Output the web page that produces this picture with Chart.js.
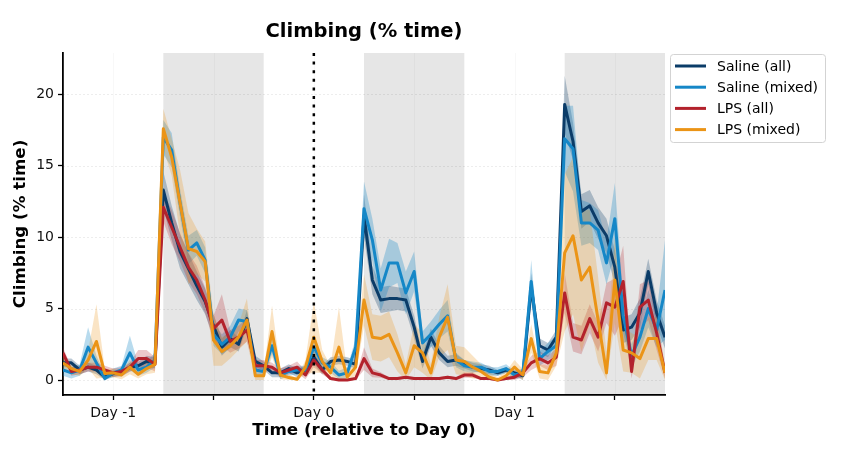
<!DOCTYPE html>
<html lang="en">
<head>
<meta charset="UTF-8">
<title>Climbing (% time)</title>
<script src="https://cdn.jsdelivr.net/npm/chart.js"></script>
<style>
  html, body { margin: 0; padding: 0; background: #fff; }
</style>
</head>
<body>
<canvas id="climbing-chart" width="841" height="464"></canvas>
<script>
// hours relative to Day 0 (hourly bins)
var hours = [];
for (var h = -30; h <= 42; h++) hours.push(h);

// dark phases (hours), x ticks
var darkPhases = [[-18, -6], [6, 18], [30, 42]];
var xTicks = [-24, -12, 0, 12, 24, 36];
var xTickLabels = ['Day -1', '', 'Day 0', '', 'Day 1', ''];
var yTicks = [0, 5, 10, 15, 20];

var seriesNames = ['Saline (all)', 'Saline (mixed)', 'LPS (all)', 'LPS (mixed)'];

// mean values, % time
var salineAll = [
  1.2, 1.2, 0.7, 0.9, 0.7, 0.2, 0.45, 0.45, 0.9, 1.0, 1.3, 1.2,
  13.3, 11.0, 9.0, 7.8, 6.6, 5.5, 3.8, 2.3, 2.9, 2.5, 4.3, 1.3,
  1.0, 0.5, 0.5, 0.8, 0.5, 0.7, 1.6, 0.7, 1.3, 1.4, 1.3, 1.1,
  11.5, 7.0, 5.6, 5.7, 5.7, 5.6, 3.7, 1.3, 3.0, 1.9, 1.3, 1.4,
  1.1, 0.9, 0.8, 0.7, 0.5, 0.7, 0.5, 0.3, 6.5, 2.4, 2.1, 3.0,
  19.3, 16.7, 11.8, 12.2, 11.0, 10.1, 7.9, 3.5, 3.7, 4.7, 7.6, 4.7, 3.0
];
var salineMixed = [
  0.7, 0.5, 0.7, 2.3, 1.2, 0.1, 0.5, 0.7, 1.9, 0.7, 0.9, 1.4,
  17.0, 16.1, 12.4, 9.1, 9.6, 8.4, 3.2, 2.5, 3.0, 4.2, 4.1, 0.7,
  0.6, 2.4, 0.35, 0.6, 0.7, 0.7, 2.3, 1.2, 0.9, 0.35, 0.5, 2.3,
  12.0, 9.8, 6.3, 8.2, 8.2, 6.1, 7.6, 2.6, 3.2, 3.9, 4.5, 1.4,
  1.0, 0.9, 0.9, 0.6, 0.6, 0.8, 0.35, 0.5, 6.9, 1.5, 2.0, 2.4,
  16.9, 16.2, 11.0, 11.0, 10.5, 8.2, 11.3, 4.5, 1.7, 3.0, 5.0, 3.5, 6.3
];
var lpsAll = [
  1.9, 0.6, 0.7, 0.9, 0.9, 0.7, 0.5, 0.6, 0.9, 1.5, 1.5, 1.1,
  12.1, 10.7, 9.3, 7.9, 7.0, 5.6, 3.6, 4.2, 2.7, 3.0, 3.5, 1.0,
  1.0, 0.9, 0.5, 0.7, 0.9, 0.35, 1.4, 0.7, 0.1, 0.0, 0.0, 0.1,
  1.5, 0.5, 0.35, 0.1, 0.1, 0.2, 0.1, 0.1, 0.1, 0.1, 0.2, 0.1,
  0.35, 0.35, 0.1, 0.1, 0.0, 0.1, 0.2, 0.5, 1.2, 1.5, 1.2, 1.6,
  6.1, 3.0, 2.8, 4.3, 3.0, 5.4, 5.1, 6.9, 0.6, 5.1, 5.6, 3.3, 0.5
];
var lpsMixed = [
  1.2, 0.8, 0.6, 1.4, 2.7, 0.45, 0.5, 0.35, 0.9, 0.4, 0.8, 1.1,
  17.6, 15.6, 12.4, 9.2, 9.0, 8.3, 2.8, 2.0, 2.4, 3.0, 4.2, 0.3,
  0.3, 3.4, 0.35, 0.17, 0.05, 0.9, 3.0, 1.3, 0.5, 2.3, 0.2, 0.9,
  5.6, 3.0, 2.9, 3.2, 1.9, 0.5, 2.4, 1.9, 0.5, 3.0, 4.4, 1.4,
  1.3, 0.9, 0.6, 0.2, 0.0, 0.3, 0.9, 0.35, 2.9, 0.6, 0.5, 1.9,
  8.9, 10.1, 7.0, 7.9, 4.2, 0.5, 7.0, 2.1, 1.9, 1.5, 2.9, 2.9, 0.5
];

// error band half-widths (sem), read from the shading
var salineAllSem = [
  0.3, 0.3, 0.3, 0.3, 0.3, 0.2, 0.2, 0.2, 0.3, 0.3, 0.4, 0.4,
  1.3, 1.2, 1.2, 1.1, 1.0, 0.9, 0.8, 0.6, 0.6, 0.5, 0.6, 0.4,
  0.3, 0.3, 0.3, 0.3, 0.3, 0.3, 0.5, 0.3, 0.3, 0.3, 0.3, 0.3,
  1.5, 1.0, 0.9, 0.9, 0.8, 0.8, 0.8, 0.5, 0.6, 0.5, 0.4, 0.4,
  0.3, 0.3, 0.3, 0.3, 0.2, 0.2, 0.2, 0.3, 1.0, 0.5, 0.5, 0.5,
  2.0, 1.3, 1.2, 1.1, 1.1, 1.2, 1.2, 0.9, 0.9, 1.0, 0.9, 0.9, 0.8
];
var salineMixedSem = [
  0.4, 0.4, 0.4, 1.4, 0.5, 0.3, 0.3, 0.3, 1.2, 0.4, 0.4, 0.5,
  1.2, 1.2, 1.0, 1.0, 0.9, 0.9, 0.8, 0.7, 0.8, 0.8, 0.8, 0.4,
  0.4, 0.6, 0.3, 0.3, 0.3, 0.3, 0.7, 0.4, 0.4, 0.3, 0.4, 0.6,
  1.9, 1.5, 1.5, 1.7, 1.4, 1.5, 1.4, 0.8, 0.9, 1.0, 1.1, 0.5,
  0.4, 0.4, 0.3, 0.3, 0.3, 0.3, 0.3, 0.3, 1.5, 0.5, 0.6, 0.7,
  2.3, 3.0, 1.6, 1.4, 1.4, 1.5, 2.5, 1.2, 0.8, 1.0, 1.3, 1.2, 3.5
];
var lpsAllSem = [
  0.4, 0.3, 0.3, 0.3, 0.3, 0.3, 0.3, 0.3, 0.3, 0.6, 0.6, 0.5,
  1.0, 1.2, 1.0, 1.0, 1.0, 0.9, 0.9, 1.8, 0.8, 0.8, 0.8, 0.4,
  0.4, 0.3, 0.3, 0.3, 0.4, 0.3, 0.5, 0.3, 0.1, 0.1, 0.1, 0.1,
  0.8, 0.3, 0.2, 0.1, 0.1, 0.1, 0.1, 0.1, 0.1, 0.1, 0.1, 0.1,
  0.2, 0.2, 0.1, 0.1, 0.1, 0.1, 0.2, 0.3, 0.5, 0.5, 0.5, 0.6,
  1.4, 1.0, 1.0, 1.0, 1.0, 1.4, 2.0, 2.5, 0.5, 1.6, 1.4, 1.2, 0.4
];
var lpsMixedSem = [
  0.5, 0.4, 0.3, 0.6, 2.6, 0.3, 0.3, 0.3, 0.5, 0.3, 0.4, 0.6,
  1.4, 1.3, 2.3, 2.5, 1.6, 1.4, 1.8, 1.0, 0.9, 0.9, 1.5, 0.3,
  0.3, 1.8, 0.3, 0.2, 0.1, 0.5, 2.5, 0.8, 0.5, 2.8, 0.3, 0.6,
  1.8, 1.6, 1.6, 1.6, 1.3, 0.6, 1.5, 1.4, 0.6, 1.4, 2.3, 1.0,
  1.0, 0.8, 0.5, 0.3, 0.2, 0.3, 0.5, 0.4, 1.0, 0.5, 0.5, 0.9,
  5.5, 5.5, 5.0, 4.0, 3.0, 1.5, 3.0, 1.5, 1.4, 1.4, 1.5, 1.5, 0.6
];

var seriesValues = [salineAll, salineMixed, lpsAll, lpsMixed];
var seriesSem = [salineAllSem, salineMixedSem, lpsAllSem, lpsMixedSem];
var lineColors = ['#0b3c68', '#1587c7', '#b3222c', '#eb9416'];
var bandColors = ['rgba(11,60,104,0.28)', 'rgba(21,135,199,0.3)', 'rgba(179,34,44,0.25)', 'rgba(235,148,22,0.25)'];

var FONT = "'DejaVu Sans', sans-serif";

function pts(vals) {
  return hours.map(function (h, i) { return { x: h, y: vals[i] }; });
}

var datasets = [];
seriesValues.forEach(function (vals, k) {
  var sem = seriesSem[k];
  var lower = vals.map(function (v, i) { return Math.max(0, v - sem[i]); });
  var upper = vals.map(function (v, i) { return v + sem[i]; });
  datasets.push({ label: seriesNames[k] + ' lo', data: pts(lower), borderWidth: 0, pointRadius: 0, fill: false, order: 100 - k });
  datasets.push({ label: seriesNames[k] + ' hi', data: pts(upper), borderWidth: 0, pointRadius: 0, fill: '-1', backgroundColor: bandColors[k], order: 100 - k });
});
seriesValues.forEach(function (vals, k) {
  datasets.push({
    label: seriesNames[k], data: pts(vals), borderColor: lineColors[k], borderWidth: 3,
    pointRadius: 0, fill: false, tension: 0, borderJoinStyle: 'round', order: 10 - k
  });
});

// gray dark-phase blocks + faint grid, under everything
var backdrop = {
  id: 'backdrop',
  beforeDraw: function (chart) {
    var ctx = chart.ctx, a = chart.chartArea, xs = chart.scales.x, ys = chart.scales.y;
    ctx.save();
    ctx.fillStyle = '#fff';
    ctx.fillRect(0, 0, chart.width, chart.height);
    ctx.fillStyle = '#e6e6e6';
    darkPhases.forEach(function (p) {
      var x1 = xs.getPixelForValue(p[0]), x2 = xs.getPixelForValue(p[1]);
      ctx.fillRect(x1, a.top, x2 - x1, a.bottom - a.top);
    });
    ctx.strokeStyle = 'rgba(0,0,0,0.09)';
    ctx.lineWidth = 0.8;
    ctx.setLineDash([2, 2]);
    yTicks.forEach(function (v) {
      var y = Math.round(ys.getPixelForValue(v)) + 0.5;
      ctx.beginPath(); ctx.moveTo(a.left, y); ctx.lineTo(a.right, y); ctx.stroke();
    });
    ctx.strokeStyle = 'rgba(0,0,0,0.04)';
    ctx.setLineDash([]);
    xTicks.forEach(function (v) {
      var x = Math.round(xs.getPixelForValue(v)) + 0.5;
      ctx.beginPath(); ctx.moveTo(x, a.top); ctx.lineTo(x, a.bottom); ctx.stroke();
    });
    ctx.restore();
  },
  afterDatasetsDraw: function (chart) {
    var ctx = chart.ctx, a = chart.chartArea;
    var x = chart.scales.x.getPixelForValue(0);
    ctx.save();
    ctx.strokeStyle = '#000';
    ctx.lineWidth = 2.5;
    ctx.setLineDash([3, 5.6]);
    ctx.beginPath(); ctx.moveTo(x, a.top); ctx.lineTo(x, a.bottom); ctx.stroke();
    ctx.restore();
  },
  afterDraw: function (chart) {
    var ctx = chart.ctx, a = chart.chartArea;
    var cx = (a.left + a.right) / 2, cy = (a.top + a.bottom) / 2;
    ctx.save();
    ctx.fillStyle = '#000';
    ctx.textAlign = 'center';
    ctx.textBaseline = 'middle';
    ctx.font = 'bold 19.5px ' + FONT;
    ctx.fillText('Climbing (% time)', cx, 32);
    ctx.font = 'bold 16.7px ' + FONT;
    ctx.fillText('Time (relative to Day 0)', cx, 431);
    ctx.translate(21, cy);
    ctx.rotate(-Math.PI / 2);
    ctx.fillText('Climbing (% time)', 0, 0);
    ctx.restore();

    // legend
    ctx.save();
    ctx.fillStyle = 'rgba(255,255,255,0.85)';
    ctx.strokeStyle = '#d3d3d3';
    ctx.lineWidth = 1;
    ctx.beginPath();
    ctx.roundRect(670.5, 54.5, 155, 88, 3);
    ctx.fill(); ctx.stroke();
    ctx.font = '14px ' + FONT;
    ctx.textAlign = 'left';
    ctx.textBaseline = 'middle';
    seriesNames.forEach(function (name, k) {
      var y = 66 + k * 21.2;
      ctx.strokeStyle = lineColors[k];
      ctx.lineWidth = 3;
      ctx.beginPath(); ctx.moveTo(675, y); ctx.lineTo(706, y); ctx.stroke();
      ctx.fillStyle = '#000';
      ctx.fillText(name, 717, y + 1);
    });
    ctx.restore();
  }
};

var chart = new Chart(document.getElementById('climbing-chart').getContext('2d'), {
  type: 'line',
  data: { datasets: datasets },
  options: {
    responsive: false,
    animation: false,
    devicePixelRatio: 1,
    layout: { padding: { top: 53, right: 176, left: 0, bottom: 0 } },
    plugins: {
      legend: { display: false },
      tooltip: { enabled: false },
      filler: { drawTime: 'beforeDatasetsDraw', propagate: false }
    },
    scales: {
      x: {
        type: 'linear', min: -30, max: 42,
        afterBuildTicks: function (axis) { axis.ticks = xTicks.map(function (v) { return { value: v }; }); },
        afterFit: function (axis) { axis.height = 69; },
        ticks: {
          autoSkip: false, maxRotation: 0, padding: 5, color: '#111',
          font: { family: FONT, size: 14 },
          callback: function (value) { return xTickLabels[xTicks.indexOf(value)]; }
        },
        grid: { drawOnChartArea: false, drawTicks: true, tickLength: 5, tickColor: '#000', tickWidth: 1.3 },
        border: { display: true, color: '#000', width: 1.8 }
      },
      y: {
        type: 'linear', min: -1.05, max: 22.9,
        afterBuildTicks: function (axis) { axis.ticks = yTicks.map(function (v) { return { value: v }; }); },
        afterFit: function (axis) { axis.width = 63; },
        ticks: { padding: 4, color: '#111', font: { family: FONT, size: 14 } },
        grid: { drawOnChartArea: false, drawTicks: true, tickLength: 5, tickColor: '#000', tickWidth: 1.3 },
        border: { display: true, color: '#000', width: 1.8 }
      }
    }
  },
  plugins: [backdrop]
});
</script>
</body>
</html>
